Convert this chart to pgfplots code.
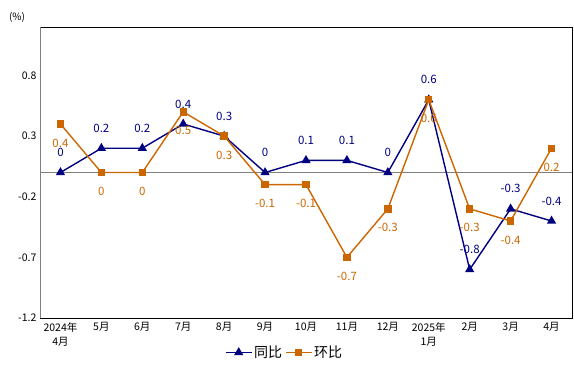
\documentclass[border=0pt]{standalone}
\usepackage{pgfplots}
\usepackage{pgfplotstable}
\pgfplotsset{compat=1.18}
\usepackage{fontspec}
\setmainfont{Noto Sans CJK SC}
\definecolor{navyc}{RGB}{0,0,128}
\definecolor{orgc}{RGB}{204,102,0}
\pgfplotstableread{
x tb hb
0 0 0.4
1 0.2 0
2 0.2 0
3 0.4 0.5
4 0.3 0.3
5 0 -0.1
6 0.1 -0.1
7 0.1 -0.7
8 0 -0.3
9 0.6 0.6
10 -0.8 -0.3
11 -0.3 -0.4
12 -0.4 0.2
}\data
\begin{document}
\begin{tikzpicture}
\begin{axis}[at={(0,0)}, anchor=south west, scale only axis,
  width=532pt, height=291pt,
  xmin=-0.5, xmax=12.5, ymin=-1.2, ymax=1.2,
  xtick={0,...,12},
  xticklabels={{2024年\\4月},5月,6月,7月,8月,9月,10月,11月,12月,{2025年\\1月},2月,3月,4月},
  xticklabel style={align=center, font=\fontsize{10.5}{14.5}\selectfont, yshift=-1pt},
  ytick={-1.2,-0.7,-0.2,0.3,0.8},
  yticklabels={-1.2,-0.7,-0.2,0.3,0.8},
  yticklabel style={font=\fontsize{10.5}{12}\selectfont},
  major tick length=0pt,
  axis line style={black, line width=0.8pt},
  legend style={at={(0.46,-0.085)}, anchor=north, draw=none, legend columns=2,
    font=\fontsize{14}{16}\selectfont, /tikz/every even column/.append style={column sep=1pt},
    inner sep=1pt},
  legend image code/.code={\draw[mark repeat=2,mark phase=2] plot coordinates {(0cm,0cm) (0.45cm,0cm) (0.9cm,0cm)};},
  legend cell align=left,
  clip=false,
]
\addplot[gray, line width=0.8pt, forget plot] coordinates {(-0.5,0) (12.5,0)};
\addplot[navyc, line width=1.4pt, mark=triangle*, mark size=4pt,
  mark options={solid},
  nodes near coords, point meta=explicit symbolic,
  nodes near coords style={anchor=center, yshift=20pt, text=navyc, font=\fontsize{11.5}{13}\selectfont}]
  table[x=x, y=tb, meta=tb]{\data};
\addlegendentry{同比}
\addplot[orgc, line width=1.4pt, mark=square*, mark size=3pt,
  nodes near coords, point meta=explicit symbolic,
  nodes near coords style={anchor=center, yshift=-19pt, text=orgc, font=\fontsize{11.5}{13}\selectfont}]
  table[x=x, y=hb, meta=hb]{\data};
\addlegendentry{环比}
\node[font=\fontsize{10}{12}\selectfont] at (rel axis cs:0,1) [xshift=-23pt, yshift=10pt] {(\%)};
\draw[gray, line width=0.8pt] (rel axis cs:0,0) -- (rel axis cs:0,1);
\end{axis}
\pgfresetboundingbox
\path (-40pt,-56pt) rectangle (534pt,318pt);
\end{tikzpicture}
\end{document}
